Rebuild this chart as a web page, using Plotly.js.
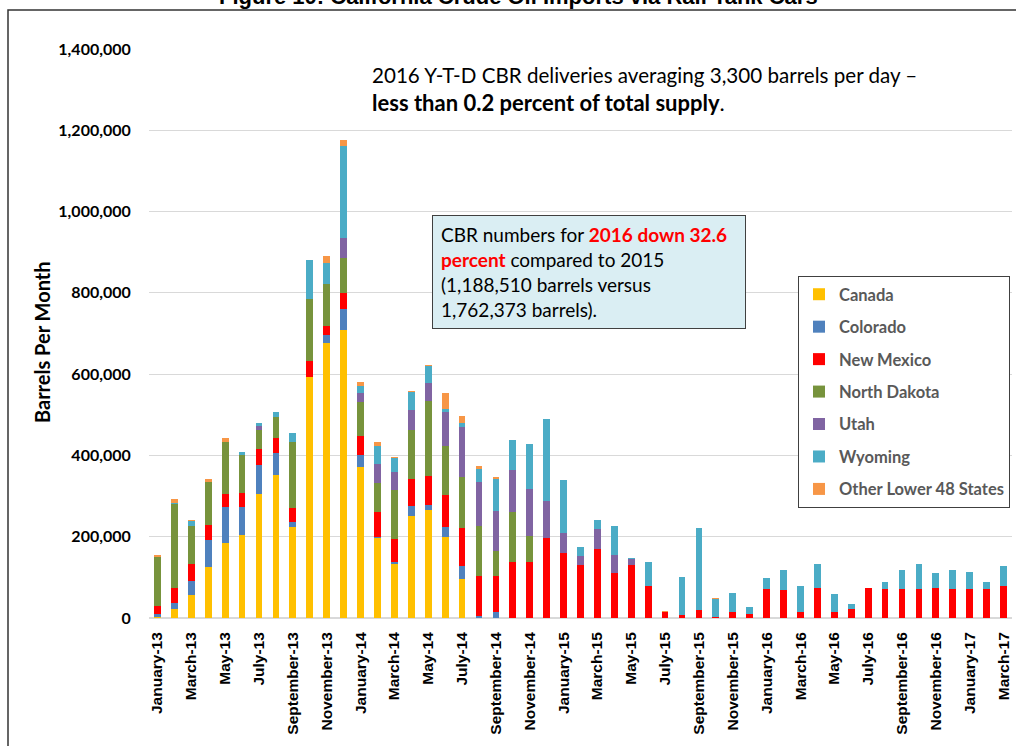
<!DOCTYPE html>
<html>
<head>
<meta charset="utf-8">
<script src="https://cdn.plot.ly/plotly-3.0.1.min.js"></script>
<style>html,body{margin:0;padding:0;background:#fff;}#chart{width:1016px;height:746px;}</style>
</head>
<body>
<div id="chart"></div>
<script>
const categories = [
 'January-13','February-13','March-13','April-13','May-13','June-13','July-13','August-13','September-13','October-13','November-13','December-13',
 'January-14','February-14','March-14','April-14','May-14','June-14','July-14','August-14','September-14','October-14','November-14','December-14',
 'January-15','February-15','March-15','April-15','May-15','June-15','July-15','August-15','September-15','October-15','November-15','December-15',
 'January-16','February-16','March-16','April-16','May-16','June-16','July-16','August-16','September-16','October-16','November-16','December-16',
 'January-17','February-17','March-17'
];

const canada = [
 3000,22000,57000,125000,184000,205000,305000,352000,223000,594000,676000,709000,
 371000,197000,134000,250000,266000,200000,95000,0,0,0,0,0,
 0,0,0,0,0,0,0,0,0,0,0,0,
 0,0,0,0,0,0,0,0,0,0,0,0,
 0,0,0
];
const colorado = [
 7000,15000,35000,67000,88000,69000,71000,55000,14000,0,21000,52000,
 29000,3000,3000,25000,11000,25000,33000,4000,15000,0,0,0,
 0,0,0,0,0,0,0,0,0,0,0,0,
 0,0,0,0,0,0,0,0,0,0,0,0,
 0,0,0
];
const newMexico = [
 20000,36000,41000,38000,34000,33000,39000,36000,34000,38000,22000,38000,
 48000,60000,57000,66000,72000,78000,93000,100000,88000,139000,139000,196000,
 161000,130000,171000,110000,130000,78000,14000,8000,19000,1500,14000,11000,
 72000,69000,14000,75000,14000,22000,75000,72000,72000,72000,75000,72000,
 72000,72000,78000
];
const northDakota = [
 119000,207000,94000,104000,127000,94000,48000,52000,163000,152000,102000,87000,
 84000,71000,121000,122000,185000,120000,125000,123000,61000,121000,63000,0,
 0,0,0,0,0,0,0,0,0,0,0,0,
 0,0,0,0,0,0,0,0,0,0,0,0,
 0,0,0
];
const utah = [
 0,0,0,0,0,0,10000,0,0,0,0,49000,
 21000,48000,44000,49000,44000,84000,124000,107000,99000,105000,116000,93000,
 49000,22000,47000,46000,14000,0,0,0,0,0,0,0,
 0,0,0,0,0,0,0,0,0,0,0,0,
 0,0,0
];
const wyoming = [
 0,4000,11000,0,0,8000,6500,11000,20000,98000,52000,226000,
 19000,43000,34000,44000,42000,8000,11000,33000,78000,72000,111000,200000,
 130000,23000,23000,70000,2500,60000,0,94000,203000,46000,48000,17000,
 27000,48000,64000,58000,45000,12000,0,16000,47000,61000,36000,47000,
 41000,16000,50000
];
const otherStates = [
 6500,9000,4000,7000,11000,0,0,0,0,0,17000,16000,
 9000,12000,2500,3000,3000,39000,16000,7000,5000,0,0,0,
 0,0,0,0,1600,0,3000,0,0,2500,0,0,
 0,0,0,0,0,0,0,0,0,0,0,0,
 0,0,0
];

const seriesNames = ['Canada','Colorado','New Mexico','North Dakota','Utah','Wyoming','Other Lower 48 States'];
const seriesValues = [canada, colorado, newMexico, northDakota, utah, wyoming, otherStates];
const seriesColors = ['#FFC000','#4F81BD','#FF0000','#77933C','#8064A2','#4BACC6','#F79646'];

const tickLabels = categories.filter((c, i) => i % 2 === 0);

// layout geometry helpers (pixels -> paper)
const W = 1016, H = 746, L = 149, R = 4, T = 49, B = 128;
const px = x => (x - L) / (W - L - R);
const py = y => (H - B - y) / (H - T - B);

const traces = seriesNames.map((name, i) => ({
  type: 'bar',
  name: name,
  x: categories,
  y: seriesValues[i],
  legendgroup: 'g' + i,
  marker: {color: seriesColors[i], line: {width: 0}}
}));

const layout = {
  width: W, height: H,
  margin: {l: L, r: R, t: T, b: B, pad: 0},
  paper_bgcolor: '#fff', plot_bgcolor: '#fff',
  barmode: 'stack',
  bargap: 0.6,
  showlegend: true,
  legend: {
    x: px(798), y: py(276), xanchor: 'left', yanchor: 'top',
    bgcolor: '#fff', bordercolor: '#404040', borderwidth: 1,
    traceorder: 'grouped', tracegroupgap: 8,
    font: {family: 'Lato', size: 16.5, color: '#595959', weight: 'bold'}
  },
  xaxis: {
    type: 'category',
    tickmode: 'array', tickvals: tickLabels, ticktext: tickLabels,
    tickangle: -90,
    ticks: 'outside', ticklen: 7, tickcolor: 'rgba(0,0,0,0)',
    tickfont: {family: 'Liberation Sans', size: 15.5, color: '#000', weight: 'bold'},
    showgrid: false, showline: false, zeroline: false,
    fixedrange: true
  },
  yaxis: {
    range: [0, 1400000], dtick: 200000, tick0: 0,
    tickformat: ',d',
    ticks: 'outside', ticklen: 14, tickcolor: 'rgba(0,0,0,0)',
    tickfont: {family: 'Lato', size: 16, color: '#000', weight: 'bold'},
    showgrid: true, gridcolor: '#D9D9D9', gridwidth: 1,
    zeroline: true, zerolinecolor: '#D9D9D9', zerolinewidth: 1.5,
    showline: false, fixedrange: true
  },
  shapes: [
    {type: 'path', xref: 'paper', yref: 'paper',
     path: 'M ' + px(8) + ',' + py(760) + ' L ' + px(8) + ',' + py(10) + ' L ' + px(1030) + ',' + py(10),
     line: {color: '#333', width: 1.5}}
  ],
  annotations: [
    {xref: 'paper', yref: 'paper', x: px(518), y: py(-3), xanchor: 'center', yanchor: 'middle',
     text: 'Figure 10: California Crude Oil Imports via Rail Tank Cars', showarrow: false,
     font: {family: 'Liberation Sans', size: 22, color: '#000', weight: 'bold'}},
    {xref: 'paper', yref: 'paper', x: px(42), y: py(342), xanchor: 'center', yanchor: 'middle',
     text: '<b>Barrels Per Month</b>', textangle: -90, showarrow: false,
     font: {family: 'Lato', size: 20, color: '#000'}},
    {xref: 'paper', yref: 'paper', x: px(370), y: py(75), xanchor: 'left', yanchor: 'middle',
     text: '2016 Y-T-D CBR deliveries averaging 3,300 barrels per day \u2013', showarrow: false,
     font: {family: 'Lato', size: 20.6, color: '#000'}},
    {xref: 'paper', yref: 'paper', x: px(370), y: py(103), xanchor: 'left', yanchor: 'middle',
     text: '<b>less than 0.2 percent of total supply</b>.', showarrow: false,
     font: {family: 'Lato', size: 22, color: '#000'}},
    {xref: 'paper', yref: 'paper', x: px(432), y: py(215), xanchor: 'left', yanchor: 'top',
     text: 'CBR numbers for <b><span style="color:#FF0000">2016 down 32.6</span></b><br>' +
           '<b><span style="color:#FF0000">percent</span></b> compared to 2015<br>' +
           '(1,188,510 barrels versus<br>1,762,373 barrels).',
     align: 'left', valign: 'middle', showarrow: false,
     width: 296, height: 96, borderpad: 8,
     bgcolor: '#DAEEF3', bordercolor: '#404040', borderwidth: 1,
     font: {family: 'Lato', size: 19, color: '#000'}}
  ]
};

Plotly.newPlot('chart', traces, layout, {staticPlot: true, displayModeBar: false});
</script>
</body>
</html>
